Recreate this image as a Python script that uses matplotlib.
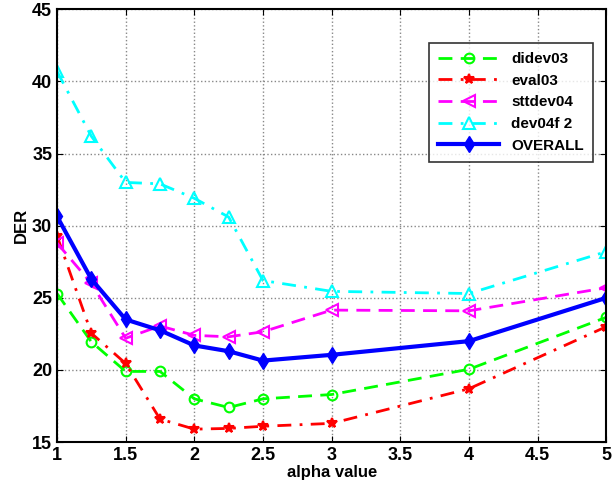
import matplotlib
matplotlib.use("Agg")
import matplotlib.pyplot as plt

plt.rcParams['font.family'] = ['Liberation Sans', 'DejaVu Sans']
plt.rcParams['font.weight'] = 'bold'

# alpha values on the x axis
alpha = [1, 1.25, 1.5, 1.75, 2, 2.25, 2.5, 3, 4, 5]

# DER per test set
didev03 = [25.3, 21.95, 19.9, 19.9, 18.0, 17.4, 18.0, 18.3, 20.05, 23.65]
eval03 = [29.3, 22.55, 20.45, 16.6, 15.9, 15.95, 16.1, 16.3, 18.7, 23.0]
sttdev04 = [28.8, 26.0, 22.2, 23.05, 22.4, 22.3, 22.65, 24.15, 24.1, 25.7]
dev04f_2 = [40.7, 36.2, 33.0, 32.9, 31.9, 30.6, 26.2, 25.45, 25.3, 28.2]
overall = [30.65, 26.3, 23.5, 22.75, 21.7, 21.3, 20.65, 21.05, 22.0, 25.0]

fig = plt.figure(figsize=(6.13, 4.88), dpi=100)
ax = fig.add_axes([0.093, 0.094, 0.896, 0.887])

ax.plot(alpha, didev03, '--o', color='#00ff00', lw=2, ms=7, mfc='none', mew=1.5,
        dashes=(5, 3), label='didev03')
ax.plot(alpha, eval03, '-.*', color='#ff0000', lw=2, ms=7, mew=1.5,
        dashes=(5, 3, 1, 3), label='eval03')
ax.plot(alpha, sttdev04, '--<', color='#ff00ff', lw=2, ms=8, mfc='none', mew=1.5,
        dashes=(5, 3), label='sttdev04')
ax.plot(alpha, dev04f_2, '-.^', color='#00ffff', lw=2, ms=8, mfc='none', mew=1.5,
        dashes=(5, 3, 1, 3), label='dev04f 2')
ax.plot(alpha, overall, '-d', color='#0000ff', lw=3, ms=8, label='OVERALL')

ax.set_xlim(1, 5)
ax.set_ylim(15, 45)
ax.set_xticks([1, 1.5, 2, 2.5, 3, 3.5, 4, 4.5, 5])
ax.set_xticklabels(['1', '1.5', '2', '2.5', '3', '3.5', '4', '4.5', '5'])
ax.set_yticks([15, 20, 25, 30, 35, 40, 45])
ax.tick_params(labelsize=13, direction='in', length=4, top=True, right=True)
for sp in ax.spines.values():
    sp.set_linewidth(1.5)
ax.grid(True, linestyle=':', color='#888888', lw=1)

ax.set_xlabel('alpha value', fontsize=12, fontweight='bold', labelpad=1)
ax.set_ylabel('DER', fontsize=12, fontweight='bold', labelpad=2)

leg = ax.legend(loc='upper right', bbox_to_anchor=(0.99, 0.94), fontsize=11, frameon=True,
                fancybox=False, edgecolor='black', handlelength=4, borderpad=0.6)
leg.get_frame().set_linewidth(1.2)
for t in leg.get_texts():
    t.set_fontweight('bold')

fig.savefig('out.png', dpi=100)
